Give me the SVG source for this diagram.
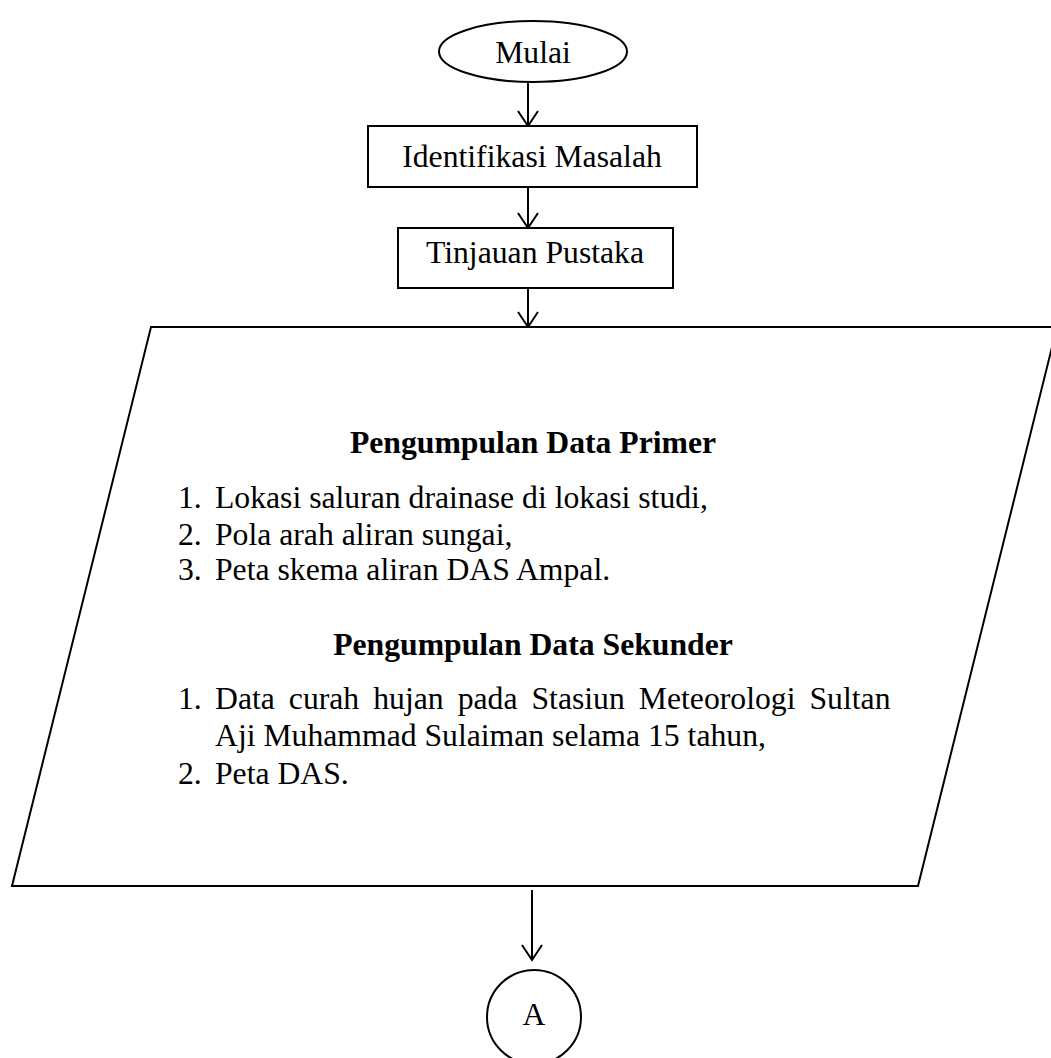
<svg xmlns="http://www.w3.org/2000/svg" width="1051" height="1058" viewBox="0 0 1051 1058">
<style>
.s{fill:#fff;stroke:#000;stroke-width:2}
.t{font-family:"Liberation Serif","Times New Roman",serif;font-size:31.7px;fill:#000}
.c{text-anchor:middle}
.b{font-weight:bold}
.ln{fill:none;stroke:#000;stroke-width:2}
</style>
<defs>
<marker id="ah" markerUnits="userSpaceOnUse" markerWidth="30" markerHeight="30" refX="20" refY="15" orient="auto" viewBox="0 0 30 30">
<path d="M5,5 L20,15 L5,25" fill="none" stroke="#000" stroke-width="2"/>
</marker>
</defs>
<rect width="1051" height="1058" fill="#fff"/>
<g id="connectors">
<line class="ln" x1="528" y1="82" x2="528" y2="126" marker-end="url(#ah)"/>
<line class="ln" x1="528" y1="187" x2="528" y2="228" marker-end="url(#ah)"/>
<line class="ln" x1="528" y1="288" x2="528" y2="327" marker-end="url(#ah)"/>
<line class="ln" x1="532" y1="890" x2="532" y2="960" marker-end="url(#ah)"/>
</g>
<g id="mulai">
<ellipse class="s" cx="533" cy="51.5" rx="94" ry="30.5"/>
<text class="t c" x="533" y="63">Mulai</text>
</g>
<g id="identifikasi">
<rect class="s" x="368" y="126" width="329" height="61"/>
<text class="t c" x="532" y="167">Identifikasi Masalah</text>
</g>
<g id="tinjauan">
<rect class="s" x="398" y="228" width="275" height="60"/>
<text class="t c" x="535" y="263">Tinjauan Pustaka</text>
</g>
<g id="data">
<polygon class="s" points="151,327 1057,327 918,886 12,886"/>
<text class="t c b" x="533" y="453">Pengumpulan Data Primer</text>
<text class="t" x="178" y="508">1.</text><text class="t" x="215" y="508">Lokasi saluran drainase di lokasi studi,</text>
<text class="t" x="178" y="545">2.</text><text class="t" x="215" y="545">Pola arah aliran sungai,</text>
<text class="t" x="178" y="580">3.</text><text class="t" x="215" y="580">Peta skema aliran DAS Ampal.</text>
<text class="t c b" x="533" y="655">Pengumpulan Data Sekunder</text>
<text class="t" x="178" y="709">1.</text>
<text class="t" x="215" y="709" word-spacing="6.1">Data curah hujan pada Stasiun Meteorologi Sultan</text>
<text class="t" x="215" y="746">Aji Muhammad Sulaiman selama 15 tahun,</text>
<text class="t" x="178" y="784">2.</text><text class="t" x="215" y="784">Peta DAS.</text>
</g>
<g id="a">
<circle class="s" cx="534" cy="1017" r="47"/>
<text class="t c" x="534" y="1025">A</text>
</g>
</svg>
